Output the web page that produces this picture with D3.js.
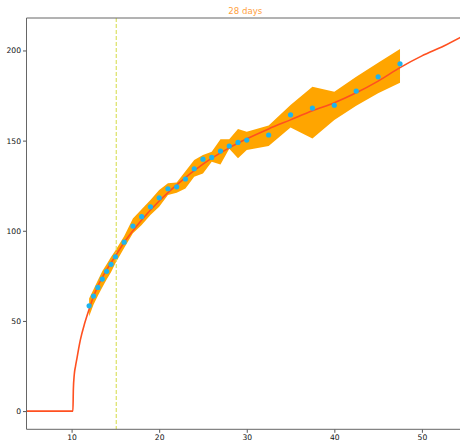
<!DOCTYPE html>
<html>
<head>
<meta charset="utf-8">
<script src="https://cdn.jsdelivr.net/npm/d3@7/dist/d3.min.js"></script>
<style>
  html, body { margin: 0; padding: 0; background: #fff; }
  svg { display: block; }
  .tick text { font-family: "DejaVu Sans", sans-serif; fill: #111; }
</style>
</head>
<body>
<svg id="chart" width="460" height="441"></svg>
<script>
// Observed cumulative counts by day
const days = [12, 12.5, 13, 13.5, 14, 14.5, 15, 16, 17, 18, 19, 20, 21, 22, 23, 24, 25, 26, 27, 28, 29, 30, 32.5, 35, 37.5, 40, 42.5, 45, 47.5];
const cases = [58.4, 63.8, 68.6, 73.2, 77.5, 81.4, 85.6, 93.7, 102.6, 107.8, 113.3, 118.3, 123.3, 124.4, 128.7, 134.4, 139.7, 140.7, 144.2, 147.0, 149.0, 150.3, 153.1, 164.3, 168.1, 169.6, 177.5, 185.4, 192.6];
// Uncertainty band around the observations
const upper = [62.5, 67.5, 72.5, 77.5, 81.5, 85.5, 89, 97, 106.8, 111.9, 117, 122.6, 126.3, 126.8, 133, 139.2, 142, 143.8, 150.7, 150.8, 156.4, 154.9, 158.4, 169.7, 179.9, 177.1, 185.4, 193.2, 200.8];
const lower = [52.5, 59, 64, 68.5, 73, 77, 82, 90.5, 98.6, 103.2, 108.7, 113.3, 119.8, 121.1, 123.5, 130, 131.8, 138.3, 136.8, 145.5, 140.2, 144.8, 147, 157.3, 151.2, 161.4, 169.3, 176.2, 182.1];
// Fitted growth curve
const fitDays = [4.85, 10.15, 10.2, 10.3, 10.45, 10.6, 10.8, 11, 11.5, 12, 12.5, 13, 14, 15, 16, 17, 18, 20, 22, 25, 28, 30, 32.5, 35, 37.5, 40, 42.5, 45, 47.5, 50, 52.5, 54.5];
const fitValues = [0, 0, 12, 20, 25, 29, 34.5, 39.5, 48.8, 56.5, 63.5, 69.3, 78.3, 86, 93.5, 100, 106, 116.5, 125.5, 137, 146, 151, 156.5, 161.5, 166.5, 171, 176.5, 183, 190.5, 197, 202.5, 207.5];
// Marker day
const markerDay = 15.1;
const xTicks = [10, 20, 30, 40, 50];
const yTicks = [0, 50, 100, 150, 200];
const title = "28 days";

const svg = d3.select("#chart");
const plotLeft = 26.5, plotRight = 460, plotTop = 18, plotBottom = 429.3;

const x = d3.scaleLinear().domain([4.85, 54.35]).range([plotLeft, plotRight]);
const y = d3.scaleLinear().domain([-10.1, 218]).range([plotBottom, plotTop]);

// Band
const band = days.map((d, i) => ({ d, lo: lower[i], hi: upper[i] }));
svg.append("path")
  .datum(band)
  .attr("fill", "#FFA500")
  .attr("d", d3.area().x(p => x(p.d)).y0(p => y(p.lo)).y1(p => y(p.hi)));

// Marker line
svg.append("line")
  .attr("x1", x(markerDay)).attr("x2", x(markerDay))
  .attr("y1", plotTop).attr("y2", plotBottom)
  .attr("stroke", "#DCE264")
  .attr("stroke-width", 1.2)
  .attr("stroke-dasharray", "4,2");

// Fitted curve
const fit = fitDays.map((d, i) => ({ d, v: fitValues[i] }));
svg.append("path")
  .datum(fit)
  .attr("fill", "none")
  .attr("stroke", "#FF5020")
  .attr("stroke-width", 1.6)
  .attr("d", d3.line().x(p => x(p.d)).y(p => y(p.v)).curve(d3.curveMonotoneX));

// Observations
svg.append("g").selectAll("circle")
  .data(days.map((d, i) => ({ d, v: cases[i] })))
  .join("circle")
  .attr("cx", p => x(p.d))
  .attr("cy", p => y(p.v))
  .attr("r", 2.6)
  .attr("fill", "#1EB4EE");

// Axes
const xAxis = svg.append("g")
  .attr("transform", `translate(0,${plotBottom})`)
  .call(d3.axisBottom(x).tickValues(xTicks).tickSize(3.5).tickPadding(2));
const yAxis = svg.append("g")
  .attr("transform", `translate(${plotLeft},0)`)
  .call(d3.axisLeft(y).tickValues(yTicks).tickSize(3.5).tickPadding(2));
[xAxis, yAxis].forEach(g => {
  g.selectAll(".domain").remove();
  g.selectAll(".tick line").attr("stroke", "#555");
  g.selectAll(".tick text").attr("font-size", 7.6);
});

// Frame (left, top, bottom)
svg.append("path")
  .attr("d", `M${plotRight + 1},${plotTop}H${plotLeft}V${plotBottom}H${plotRight + 1}`)
  .attr("fill", "none")
  .attr("stroke", "#666")
  .attr("stroke-width", 1);

svg.append("text")
  .attr("x", (plotLeft + 465) / 2 - 0.5)
  .attr("y", 14)
  .attr("text-anchor", "middle")
  .attr("font-family", "DejaVu Sans, sans-serif")
  .attr("font-size", 8.6)
  .attr("fill", "#FFA13D")
  .text(title);
</script>
</body>
</html>
